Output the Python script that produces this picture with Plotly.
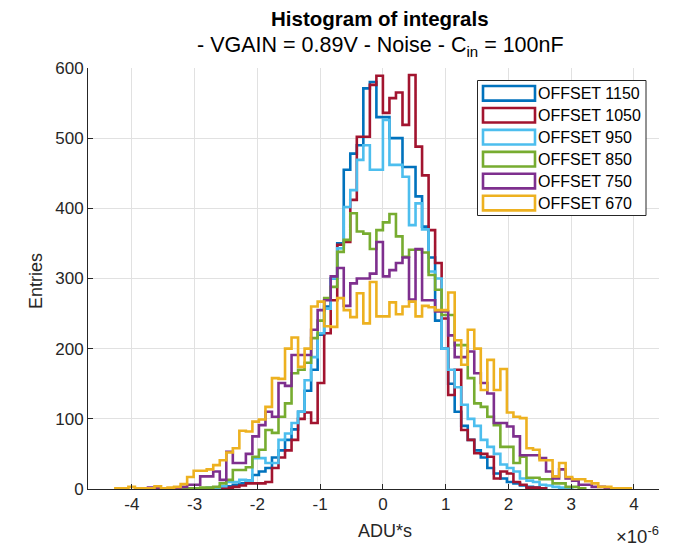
import plotly.graph_objects as go

# Histogram bin width (x axis is in units of 1e-6 ADU*s); all series share the same bin grid
BIN_W = 0.104

labels = ["OFFSET 1150", "OFFSET 1050", "OFFSET 950", "OFFSET 850", "OFFSET 750", "OFFSET 670"]
colors = ["#0072BD", "#A2142F", "#4DBEEE", "#77AC30", "#7E2F8E", "#EDB120"]

# index of the first bin of each series on the common grid (bin i spans [i*BIN_W, (i+1)*BIN_W])
first_bin = [-27, -25, -29, -32, -36, -41]

counts_1150 = [1, 2, 3, 4, 6, 8, 12, 20, 25, 30, 45, 55, 70, 85, 110, 140, 170, 220, 260, 300,
               350, 455, 478, 490, 571, 580, 530, 530, 500, 500, 459, 459, 417, 374, 330, 240, 200,
               150, 110, 90, 70, 55, 45, 30, 22, 15, 10, 8, 5, 3, 2, 1]
counts_1050 = [2, 2, 3, 5, 8, 8, 8, 10, 30, 45, 55, 70, 100, 109, 94, 151, 222, 269, 348, 352,
               412, 502, 502, 576, 589, 536, 557, 565, 519, 590, 488, 447, 369, 322, 243, 134, 170,
               84, 70, 51, 50, 46, 15, 25, 22, 10, 6, 2, 2, 1]
counts_950 = [1, 1, 2, 2, 4, 10, 10, 13, 12, 44, 44, 37, 37, 70, 79, 94, 110, 155, 188, 222, 257,
              300, 343, 402, 426, 469, 490, 455, 455, 526, 462, 462, 445, 376, 407, 370, 310, 300,
              200, 170, 145, 120, 100, 90, 70, 60, 50, 35, 30, 25, 15, 12, 10, 6, 5, 3, 2, 1]
counts_850 = [1, 1, 1, 1, 2, 2, 3, 8, 13, 27, 27, 31, 46, 56, 84, 80, 103, 122, 165, 170, 180,
              215, 240, 272, 288, 338, 355, 393, 367, 364, 342, 369, 380, 392, 360, 331, 341, 341,
              337, 305, 284, 248, 248, 205, 205, 158, 122, 117, 103, 91, 60, 60, 37, 46, 16, 16,
              14, 14, 8, 8, 3, 3, 1]
counts_750 = [2, 1, 1, 1, 2, 3, 6, 6, 18, 18, 25, 13, 53, 37, 37, 50, 75, 91, 110, 103, 151, 147,
              191, 191, 191, 227, 255, 269, 303, 315, 261, 293, 300, 300, 307, 352, 303, 312, 322,
              330, 270, 342, 269, 269, 253, 253, 219, 188, 188, 196, 165, 151, 136, 94, 94, 89, 75,
              48, 48, 48, 44, 25, 15, 28, 15, 12, 6, 6, 3, 3, 1]
counts_670 = [1, 1, 3, 1, 1, 1, 4, 1, 2, 3, 7, 17, 26, 26, 28, 34, 41, 52, 58, 83, 82, 96, 99, 117,
              158, 157, 200, 216, 174, 200, 260, 267, 232, 231, 272, 255, 245, 279, 236, 295, 246,
              246, 266, 249, 260, 267, 246, 261, 259, 255, 255, 280, 212, 177, 227, 200, 141, 184,
              141, 171, 109, 103, 101, 58, 56, 41, 41, 18, 37, 17, 14, 14, 11, 8, 3, 3, 1, 1, 1]

series_counts = [counts_1150, counts_1050, counts_950, counts_850, counts_750, counts_670]

x_ticks = [-4, -3, -2, -1, 0, 1, 2, 3, 4]
y_ticks = [0, 100, 200, 300, 400, 500, 600]

X_RANGE = [-4.70, 4.40]
Y_RANGE = [0, 600]

# plot-area placement in pixels
FIG_W, FIG_H = 679, 547
L, R, T, B = 88, 659, 68, 489
PW, PH = R - L, B - T

TXT = "#262626"
FONT = "Liberation Sans, Arial, Helvetica, sans-serif"


def px(xp):
    return (xp - L) / PW


def py(yp):
    return (B - yp) / PH


def stairs(start, counts):
    """Outline of a histogram drawn as stairs, closed down to zero at both ends."""
    edges = [(start + i) * BIN_W for i in range(len(counts) + 1)]
    xs = [edges[0]] + edges[:-1] + [edges[-1], edges[-1]]
    ys = [0] + list(counts) + [counts[-1], 0]
    return xs, ys


fig = go.Figure()
for name, col, start, cnt in zip(labels, colors, first_bin, series_counts):
    xs, ys = stairs(start, cnt)
    fig.add_trace(go.Scatter(x=xs, y=ys, mode="lines", name=name,
                             line=dict(color=col, width=2.6, shape="hv"),
                             showlegend=False, hoverinfo="skip"))

shapes = []
annotations = []

# legend box
LEG_L, LEG_R, LEG_T, LEG_B = 477.5, 646, 80.5, 215.5
shapes.append(dict(type="rect", xref="paper", yref="paper",
                   x0=px(LEG_L), x1=px(LEG_R), y0=py(LEG_B), y1=py(LEG_T),
                   line=dict(color=TXT, width=1), fillcolor="white", layer="above"))
ROW0, ROW_STEP = 93.3, 21.95
for i, (name, col) in enumerate(zip(labels, colors)):
    yc = ROW0 + i * ROW_STEP
    shapes.append(dict(type="rect", xref="paper", yref="paper",
                       x0=px(483), x1=px(535), y0=py(yc + 7.3), y1=py(yc - 7.3),
                       line=dict(color=col, width=2.6), fillcolor="rgba(0,0,0,0)", layer="above"))
    annotations.append(dict(text=name, xref="paper", yref="paper", x=px(536), y=py(yc),
                            xanchor="left", yanchor="middle", showarrow=False,
                            font=dict(family=FONT, size=16, color="#000000")))

# titles
annotations.append(dict(text="<b>Histogram of integrals</b>", xref="paper", yref="paper",
                        x=px(380), y=py(18), xanchor="center", yanchor="middle", showarrow=False,
                        font=dict(family=FONT, size=20.5, color="#000000")))
annotations.append(dict(text="- VGAIN = 0.89V - Noise - C<sub>in</sub> = 100nF", xref="paper",
                        yref="paper", x=px(380), y=py(46), xanchor="center", yanchor="middle",
                        showarrow=False, font=dict(family=FONT, size=21.5, color="#000000")))
# axis labels
annotations.append(dict(text="Entries", xref="paper", yref="paper", x=px(36), y=py(281),
                        xanchor="center", yanchor="middle", textangle=-90, showarrow=False,
                        font=dict(family=FONT, size=18, color=TXT)))
annotations.append(dict(text="ADU*s", xref="paper", yref="paper", x=px(385), y=py(531),
                        xanchor="center", yanchor="middle", showarrow=False,
                        font=dict(family=FONT, size=18, color=TXT)))
annotations.append(dict(text="×10<sup>-6</sup>", xref="paper", yref="paper", x=px(614), y=py(535),
                        xanchor="left", yanchor="middle", showarrow=False,
                        font=dict(family=FONT, size=18.5, color=TXT)))

fig.update_layout(
    width=FIG_W, height=FIG_H,
    margin=dict(l=L, r=FIG_W - R, t=T, b=FIG_H - B, pad=0),
    paper_bgcolor="white", plot_bgcolor="white",
    shapes=shapes, annotations=annotations,
    font=dict(family=FONT, color=TXT),
    xaxis=dict(range=X_RANGE, tickvals=x_ticks, ticktext=[str(v) for v in x_ticks],
               showgrid=True, gridcolor="#e1e1e1", gridwidth=1, zeroline=False,
               showline=True, linecolor=TXT, linewidth=1, mirror=False,
               ticks="inside", ticklen=5, tickcolor=TXT, tickfont=dict(size=17, color=TXT)),
    yaxis=dict(range=Y_RANGE, tickvals=y_ticks, showgrid=True, gridcolor="#e1e1e1", gridwidth=1,
               zeroline=False, showline=True, linecolor=TXT, linewidth=1, mirror=False,
               ticks="inside", ticklen=5, tickcolor=TXT, tickfont=dict(size=17, color=TXT)),
)

fig.write_html("out.html")
